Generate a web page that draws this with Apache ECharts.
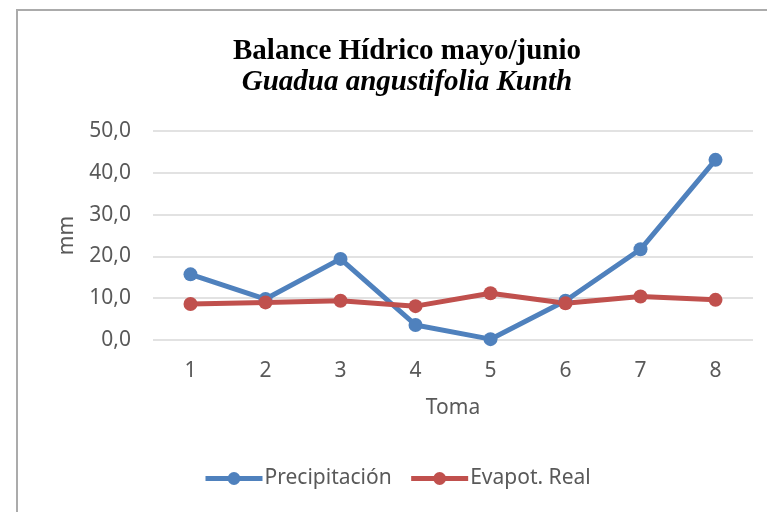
<!DOCTYPE html>
<html>
<head>
<meta charset="utf-8">
<script src="https://cdn.jsdelivr.net/npm/echarts@6/dist/echarts.min.js"></script>
<style>
  html, body { margin: 0; padding: 0; background: #fff; }
  #frame {
    position: absolute; left: 16px; top: 9px; width: 800px; height: 560px;
    border-left: 2px solid #ababab; border-top: 2px solid #ababab;
  }
  #chart-root { position: absolute; left: 0; top: 0; width: 767px; height: 512px; }
</style>
</head>
<body>
<div id="frame"></div>
<div id="chart-root"></div>
<script>
// datos
const tomas = ["1", "2", "3", "4", "5", "6", "7", "8"];
const precipitacion = [15.7, 9.8, 19.4, 3.6, 0.2, 9.4, 21.7, 43.1];
const evapotReal = [8.6, 9.0, 9.4, 8.1, 11.2, 8.8, 10.4, 9.6];
const yTicks = [0, 10, 20, 30, 40, 50];

const chart = echarts.init(document.getElementById("chart-root"));
const txt = "#595959";
const font = "Noto Sans";

const option = {
  animation: false,
  backgroundColor: "transparent",
  title: {
    text: "{b|Balance Hídrico mayo/junio}\n{i|Guadua angustifolia Kunth}",
    left: 402,
    textAlign: "center",
    top: 31,
    textStyle: {
      rich: {
        b: { fontFamily: "Liberation Serif", fontWeight: "bold", fontSize: 29, color: "#000", lineHeight: 31 },
        i: { fontFamily: "Liberation Serif", fontWeight: "bold", fontStyle: "italic", fontSize: 29, color: "#000", lineHeight: 31 }
      }
    }
  },
  grid: { left: 153, right: 14, top: 131, bottom: 172 },
  legend: {
    bottom: 18,
    left: 198,
    itemWidth: 57,
    itemHeight: 16,
    itemGap: 17,
    lineStyle: { width: 5 },
    textStyle: { color: txt, fontFamily: font, fontSize: 21, padding: [0, 0, 0, -3] },
    data: ["Precipitación", "Evapot. Real"]
  },
  xAxis: {
    type: "category",
    data: tomas,
    name: "Toma",
    nameLocation: "middle",
    nameGap: 58,
    nameTextStyle: { color: txt, fontFamily: font, fontSize: 21 },
    axisLine: { show: false },
    axisTick: { show: false },
    axisLabel: { color: txt, fontFamily: font, fontSize: 21, margin: 21 }
  },
  yAxis: {
    type: "value",
    min: yTicks[0],
    max: yTicks[yTicks.length - 1],
    interval: 10,
    name: "mm",
    nameLocation: "middle",
    nameGap: 75,
    nameRotate: 90,
    nameTextStyle: { color: txt, fontFamily: font, fontSize: 21 },
    axisLine: { show: false },
    axisTick: { show: false },
    splitLine: { lineStyle: { color: "#d9d9d9", width: 1.5 } },
    axisLabel: {
      color: txt, fontFamily: font, fontSize: 21, margin: 22,
      formatter: v => v.toFixed(1).replace(".", ",")
    }
  },
  series: [
    {
      name: "Precipitación",
      type: "line",
      data: precipitacion,
      symbol: "circle",
      symbolSize: 14,
      color: "#4f81bd",
      lineStyle: { width: 5, color: "#4f81bd" },
      itemStyle: { color: "#4f81bd" }
    },
    {
      name: "Evapot. Real",
      type: "line",
      data: evapotReal,
      symbol: "circle",
      symbolSize: 14,
      color: "#c0504d",
      lineStyle: { width: 5, color: "#c0504d" },
      itemStyle: { color: "#c0504d" }
    }
  ]
};

chart.setOption(option);
</script>
</body>
</html>
